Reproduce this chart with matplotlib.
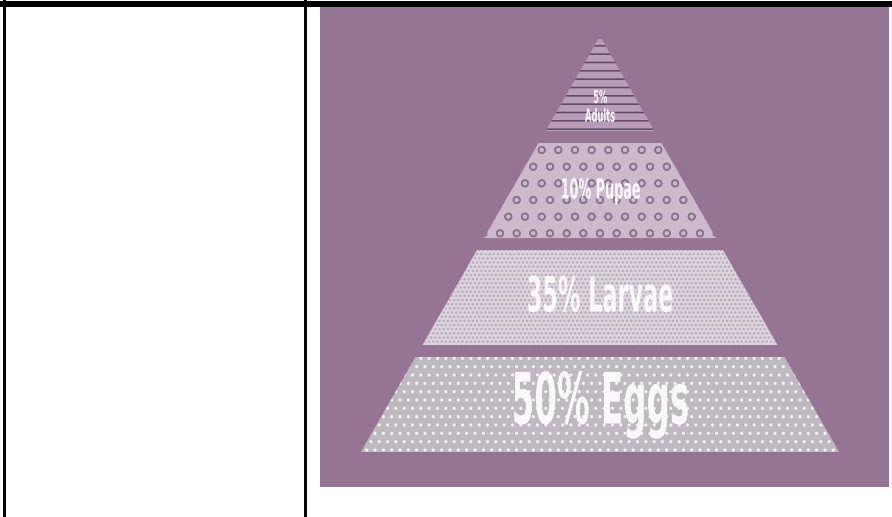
import matplotlib
matplotlib.use("Agg")
import matplotlib.pyplot as plt
from matplotlib.patches import Polygon, Rectangle
from matplotlib.patheffects import AbstractPathEffect
from matplotlib.transforms import Affine2D

# ------------------------------------------
# DATA (base of the pyramid first)
# ------------------------------------------
stages = ["Eggs", "Larvae", "Pupae", "Adults"]
shares = [50, 35, 10, 5]

fills = ["#bdb9be", "#ddd4de", "#ccbacc", "#b89cb8"]
hatch_colors = ["#f4f2f4", "#b3a8b5", "#8a7590", "#5c4862"]
hatches = ["..", "....", "o", "--"]
font_sizes = [51, 35, 20, 13]

BG = "#967494"

plt.rcParams["hatch.linewidth"] = 1.1


# condensed look: squeeze the glyphs horizontally around their centre
class Squeeze(AbstractPathEffect):
    def __init__(self, sx):
        super().__init__()
        self.sx = sx

    def draw_path(self, renderer, gc, tpath, affine, rgbFace=None):
        ext = tpath.get_extents()
        cx = (ext.x0 + ext.x1) / 2
        t = Affine2D().translate(-cx, 0).scale(self.sx, 1).translate(cx, 0) + affine
        renderer.draw_path(gc, tpath, t, rgbFace)


W, H = 892, 517
fig = plt.figure(figsize=(W / 100, H / 100), dpi=100)
fig.patch.set_facecolor("white")

# table frame
fig.add_artist(Rectangle((0, 1 - 7 / H), 1, 6 / H, transform=fig.transFigure,
                         color="black", lw=0))
fig.add_artist(Rectangle((3 / W, 0), 2.5 / W, 1, transform=fig.transFigure,
                         color="black", lw=0))
fig.add_artist(Rectangle((304 / W, 0), 3 / W, 1, transform=fig.transFigure,
                         color="black", lw=0))

# purple panel
ax = fig.add_axes([320 / W, 30 / H, 569 / W, 480 / H])
ax.set_facecolor(BG)
for s in ax.spines.values():
    s.set_visible(False)
ax.set_xticks([])
ax.set_yticks([])

gap = 0.126
top = len(stages) + (len(stages) - 1) * gap
slope = 0.575

for i, (name, pct) in enumerate(zip(stages, shares)):
    y0 = i * (1 + gap)
    y1 = y0 + 1
    w0 = slope * (top - y0)
    w1 = slope * (top - y1)
    poly = Polygon([(-w0, y0), (w0, y0), (w1, y1), (-w1, y1)],
                   facecolor=fills[i], edgecolor=hatch_colors[i],
                   hatch=hatches[i], lw=0)
    ax.add_patch(poly)

    if name == "Adults":
        label = f"{pct}%\n{name}"
        ty = y0 + 0.25
    else:
        label = f"{pct}% {name}"
        ty = y0 + 0.5
    ax.text(0, ty, label, ha="center", va="center", color="#fbf8fb",
            fontsize=font_sizes[i], fontweight="bold", linespacing=1.05,
            path_effects=[Squeeze(0.46)])

ax.set_xlim(-280 / 95, 289 / 95)
ax.set_ylim(-35 / 95, 445 / 95)

fig.savefig("out.png", dpi=100)
